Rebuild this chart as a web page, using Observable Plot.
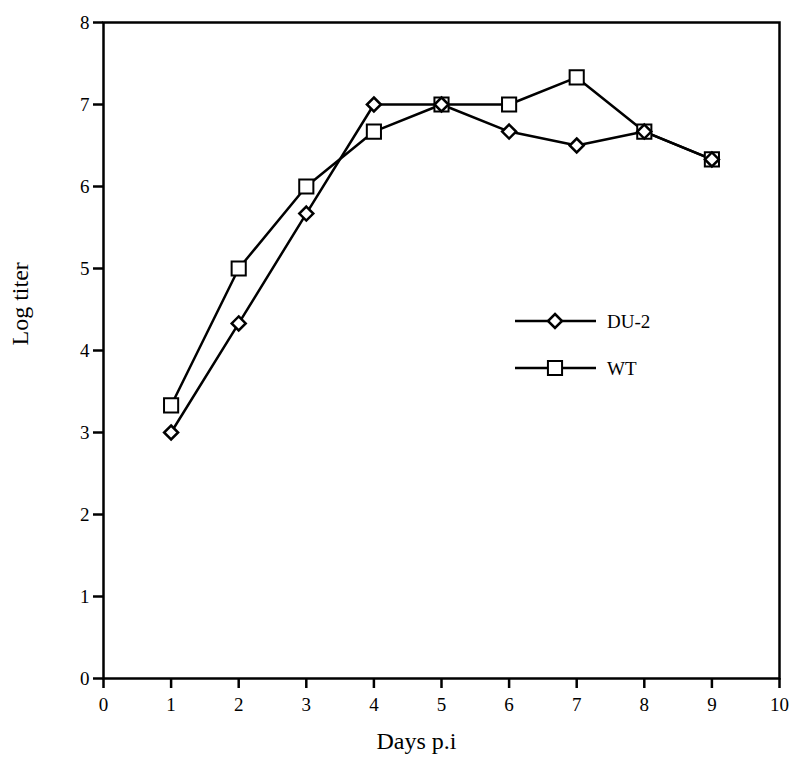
<!DOCTYPE html>
<html>
<head>
<meta charset="utf-8">
<script src="https://cdn.jsdelivr.net/npm/d3@7"></script>
<script src="https://cdn.jsdelivr.net/npm/@observablehq/plot@0.6"></script>
<style>
  html, body { margin: 0; padding: 0; background: #fff; }
  #wrap { position: relative; width: 800px; height: 779px; }
  #legend { position: absolute; left: 0; top: 0; }
  svg text { font-family: "Liberation Serif", "DejaVu Serif", serif; }
</style>
</head>
<body>
<div id="wrap"></div>
<script>
const days = [1, 2, 3, 4, 5, 6, 7, 8, 9];
const du2 = [3.0, 4.33, 5.67, 7.0, 7.0, 6.67, 6.5, 6.67, 6.33];
const wt = [3.33, 5.0, 6.0, 6.67, 7.0, 7.0, 7.33, 6.67, 6.33];
const xTicks = [0, 1, 2, 3, 4, 5, 6, 7, 8, 9, 10];
const yTicks = [0, 1, 2, 3, 4, 5, 6, 7, 8];
const seriesNames = ["DU-2", "WT"];

const du2Data = days.map((d, i) => ({day: d, v: du2[i]}));
const wtData = days.map((d, i) => ({day: d, v: wt[i]}));

const font = "Liberation Serif";
const chart = Plot.plot({
  width: 800,
  height: 779,
  marginLeft: 103,
  marginRight: 21,
  marginTop: 22,
  marginBottom: 101,
  style: {fontFamily: font, fontSize: "19px", background: "white", color: "black"},
  x: {domain: [0, 10]},
  y: {domain: [0, 8]},
  marks: [
    Plot.axisX({ticks: xTicks, tickSize: 10, tickPadding: 9, fontSize: 19, strokeWidth: 2.5, tickFormat: d => d, label: null}),
    Plot.axisY({ticks: yTicks, tickSize: 10, tickPadding: 4, fontSize: 19, strokeWidth: 2.5, tickFormat: d => d, label: null}),
    Plot.frame({stroke: "black", strokeWidth: 2.5}),
    Plot.line(wtData, {x: "day", y: "v", stroke: "black", strokeWidth: 2.5}),
    Plot.line(du2Data, {x: "day", y: "v", stroke: "black", strokeWidth: 2.5}),
    Plot.dot(wtData, {x: "day", y: "v", symbol: "square2", r: 9, stroke: "black", strokeWidth: 2, fill: "white"}),
    Plot.dot(du2Data, {x: "day", y: "v", symbol: "diamond2", r: 6.3, stroke: "black", strokeWidth: 2.5, fill: "white"}),
    Plot.text(["Days p.i"], {frameAnchor: "bottom", dx: -25, dy: 70, fontSize: 24, fontFamily: font}),
    Plot.text(["Log titer"], {frameAnchor: "left", dx: -83, dy: -5, rotate: -90, fontSize: 24, fontFamily: font})
  ]
});
document.getElementById("wrap").appendChild(chart);

// Legend overlay
const leg = d3.select("#wrap").append("svg")
  .attr("id", "legend").attr("width", 800).attr("height", 779)
  .style("pointer-events", "none");
const rows = [
  {name: seriesNames[0], sym: d3.symbolDiamond2, size: Math.PI * 6.3 * 6.3, sw: 2.5, y: 321},
  {name: seriesNames[1], sym: d3.symbolSquare2, size: Math.PI * 9 * 9, sw: 2, y: 368}
];
const g = leg.selectAll("g").data(rows).join("g").attr("transform", d => `translate(0,${d.y})`);
g.append("line").attr("x1", 515).attr("x2", 596).attr("y1", 0).attr("y2", 0)
  .attr("stroke", "black").attr("stroke-width", 2.5);
g.append("path").attr("transform", "translate(555,0)")
  .attr("d", d => d3.symbol(d.sym, d.size)())
  .attr("fill", "white").attr("stroke", "black").attr("stroke-width", d => d.sw);
g.append("text").attr("x", 607).attr("y", 0).attr("dy", "0.35em")
  .attr("font-family", font).attr("font-size", 19).text(d => d.name);
</script>
</body>
</html>
